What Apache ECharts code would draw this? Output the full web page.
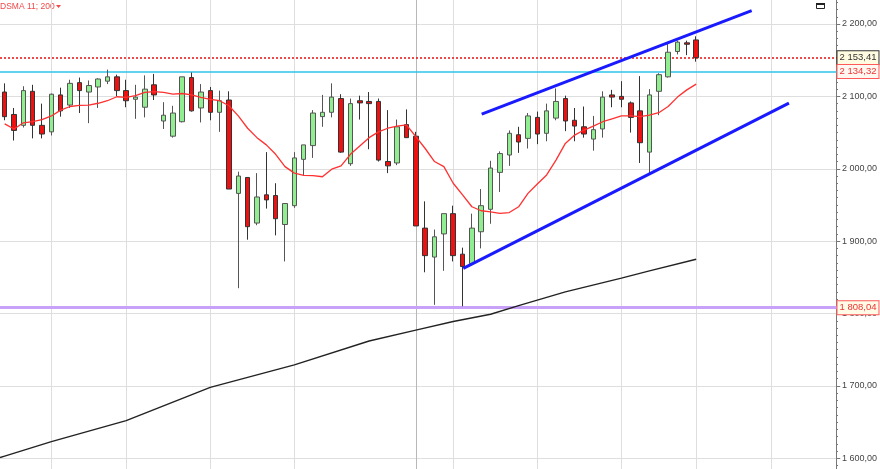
<!DOCTYPE html>
<html><head><meta charset="utf-8">
<script src="https://cdn.jsdelivr.net/npm/echarts@6/dist/echarts.min.js"></script>
<style>html,body{margin:0;padding:0;background:#fff}#c{width:880px;height:469px}</style>
</head><body><div id="c"></div>
<script>
// ---- data ----
const open  = [2106,2075,2060,2107,2060,2051,2102,2088,2119,2106,2113,2121,2127,2108,2096,2085,2116,2066,2045,2065,2126,2084,2108,2078,2095,
               1966,1988,1925,1964,1963,1923,1949,2013,2032,2072,2078,2097,2007,2094,2093,2093,2010,2008,2061,2045,1918,1878,1910,1938,1882,
               1869,1913,1944,1995,2019,2047,2042,2071,2049,2070,2097,2067,2058,2041,2055,2102,2100,2091,2080,2023,2107,2127,2162,2174,2178];
const high  = [2118,2084,2114,2116,2090,2104,2112,2123,2126,2122,2125,2137,2130,2123,2116,2129,2131,2092,2087,2127,2133,2117,2113,2108,2107,
               1996,1988,1994,2023,1980,1952,2023,2033,2081,2102,2118,2103,2097,2101,2106,2097,2081,2068,2082,2051,1955,1916,1938,1949,1891,
               1938,1972,2011,2024,2053,2058,2077,2079,2090,2111,2101,2084,2086,2073,2107,2109,2121,2093,2128,2110,2132,2173,2177,2177,2183];
const low   = [2067,2039,2057,2042,2042,2046,2072,2084,2077,2063,2084,2117,2100,2085,2069,2071,2095,2055,2043,2064,2079,2064,2067,2051,1972,
               1835,1902,1922,1945,1908,1872,1946,1991,2015,2058,2071,2022,2004,2068,2027,2010,1994,2005,2043,1921,1857,1812,1859,1872,1810,
               1869,1890,1924,1968,2004,2022,2028,2034,2038,2067,2052,2038,2043,2025,2043,2085,2085,2050,2008,1994,2074,2126,2158,2157,2148];
const close = [2072,2053,2108,2060,2048,2103,2080,2118,2108,2115,2124,2127,2108,2094,2099,2110,2102,2074,2077,2127,2080,2106,2078,2094,1972,
               1990,1920,1961,1957,1931,1952,2015,2033,2077,2078,2099,2023,2090,2091,2090,2012,2004,2058,2043,1921,1880,1906,1938,1880,1865,
               1918,1949,2001,2021,2049,2037,2073,2048,2080,2093,2066,2059,2048,2054,2099,2099,2096,2071,2036,2102,2130,2161,2175,2172,2153.41];
const sma11 = [2062,2055,2063.5,2065,2068,2073,2081,2086,2087.5,2088,2090.5,2094,2099.5,2098.5,2101,2105.5,2106.5,2105.5,2103,2104,2102,2098.5,2096,2094,2087,
               2073,2056,2043,2033,2020,2003,1994,1991,1990.5,1989,1999.5,2004,2020,2031.5,2043,2051,2056,2059,2060.5,2044.5,2028,2010,2003,1980,1964,
               1947.5,1942,1940.5,1938.5,1939.5,1947.5,1966,1979,1991.5,2012,2035,2046.5,2053.5,2059,2065,2069,2073,2073,2072,2074,2077.5,2086,2099,2109,2117];
// SMA 200 read at a few positions (bar position, value)
const sma200Pos = [-0.5, 0, 5, 13, 22, 31, 39, 44, 48, 52, 55, 60, 66, 69, 74];
const sma200Val = [1601,1603,1623,1652,1698,1729,1762,1777,1789,1799,1811,1830,1849,1859,1875];
// channel lines (bar position, value)
const upperChannel = [[51.05, 2075.6], [79.94, 2218.4]];
const lowerChannel = [[49.08, 1862.5], [83.93, 2090.8]];
// period separators (1-based bar numbers), darker one = year break
const separators = [6, 14, 23, 32, 45, 49, 58, 67, 75, 83];
const yearBreak = 45;
const lastPrice = 2153.41, resistance = 2134.32, support = 1808.04;
const slotCount = 90;
const days = Array.from({length: slotCount}, (_, i) => String(i + 1));
const legendText = 'DSMA 11; 200';

function fmt(v) {
  const p = Number(v).toFixed(2).split('.');
  return p[0].replace(/\B(?=(\d{3})+(?!\d))/g, ' ') + ',' + p[1];
}

const chart = echarts.init(document.getElementById('c'), null, {renderer: 'canvas'});
const candles = open.map((o, i) => [o, close[i], low[i], high[i]]);

const sepLines = separators.map(s => ({
  xAxis: s - 1,
  lineStyle: {color: s === yearBreak ? '#b8b8b8' : '#dedede', width: 1, type: 'solid'}
}));

function priceLine(v, lineStyle, textColor, bg, border) {
  return {
    yAxis: v, lineStyle: lineStyle,
    label: {show: true, position: 'end', distance: -3.5, formatter: () => fmt(v),
      color: textColor, backgroundColor: bg, borderColor: border, borderWidth: 1,
      padding: [2, 2, 1, 2], fontSize: 9.5, fontFamily: 'Liberation Sans, Arial, sans-serif'}
  };
}

chart.setOption({
  animation: false,
  backgroundColor: '#fff',
  grid: {left: 0, right: 39, top: -48.38, bottom: -61.68, containLabel: false, outerBoundsMode: 'none'},
  xAxis: [
    {type: 'category', data: days, boundaryGap: true, show: false},
    {type: 'value', min: -0.5, max: slotCount - 0.5, show: false, splitLine: {show: false}, axisLine: {onZero: false}}
  ],
  yAxis: {
    type: 'value', position: 'right', offset: -5, min: 1500, max: 2300, interval: 100,
    axisLine: {show: true, onZero: false, lineStyle: {color: '#777', width: 1}},
    axisTick: {show: true, length: 4, lineStyle: {color: '#777'}},
    minorTick: {show: true, splitNumber: 10, length: 2, lineStyle: {color: '#777'}},
    axisLabel: {formatter: fmt, color: '#444', fontSize: 9, margin: 6, fontFamily: 'Liberation Sans, Arial, sans-serif'},
    splitLine: {show: true, lineStyle: {color: '#dedede', width: 1}},
    minorSplitLine: {show: false}
  },
  series: [
    {
      type: 'line', xAxisIndex: 1, data: [], silent: true,
      markLine: {silent: true, symbol: 'none', z: 1, label: {show: false}, data: sepLines}
    },
    {
      type: 'candlestick', data: candles, barWidth: 5, z: 3,
      itemStyle: {color: '#90ee90', color0: '#ee1111', borderColor: '#555', borderColor0: '#333', borderWidth: 1},
      markLine: {
        silent: true, symbol: 'none', z: 2,
        data: [
          priceLine(lastPrice, {color: '#e81010', type: [2, 2], width: 1.5}, '#333', '#fffbe0', '#333'),
          priceLine(resistance, {color: '#2ec4ea', type: 'solid', width: 1.5}, '#ee3333', '#fff7f0', '#ff5a5a'),
          priceLine(support, {color: '#c8a2f8', type: 'solid', width: 3}, '#ee3333', '#fffbe6', '#ff5a5a')
        ]
      }
    },
    {type: 'line', data: sma11, symbol: 'none', z: 4, lineStyle: {color: '#ff3030', width: 1.3}},
    {type: 'line', xAxisIndex: 1, data: sma200Pos.map((p, i) => [p, sma200Val[i]]), symbol: 'none', z: 4,
      lineStyle: {color: '#222', width: 1.4}},
    {type: 'line', xAxisIndex: 1, data: upperChannel, symbol: 'none', z: 5, lineStyle: {color: '#1a1aff', width: 3}},
    {type: 'line', xAxisIndex: 1, data: lowerChannel, symbol: 'none', z: 5, lineStyle: {color: '#1a1aff', width: 3}}
  ],
  graphic: [
    {type: 'text', left: 0, top: 2, style: {text: legendText, fill: '#f04848', fontSize: 8.5, fontFamily: 'Liberation Sans, Arial, sans-serif'}},
    {type: 'polygon', shape: {points: [[56, 5], [61, 5], [58.5, 8]]}, style: {fill: '#f04848'}},
    {type: 'rect', shape: {x: 816.5, y: 3.5, width: 8, height: 5}, style: {fill: 'none', stroke: '#222', lineWidth: 1}},
    {type: 'rect', shape: {x: 816, y: 3, width: 9, height: 2}, style: {fill: '#222'}}
  ]
});
</script></body></html>
